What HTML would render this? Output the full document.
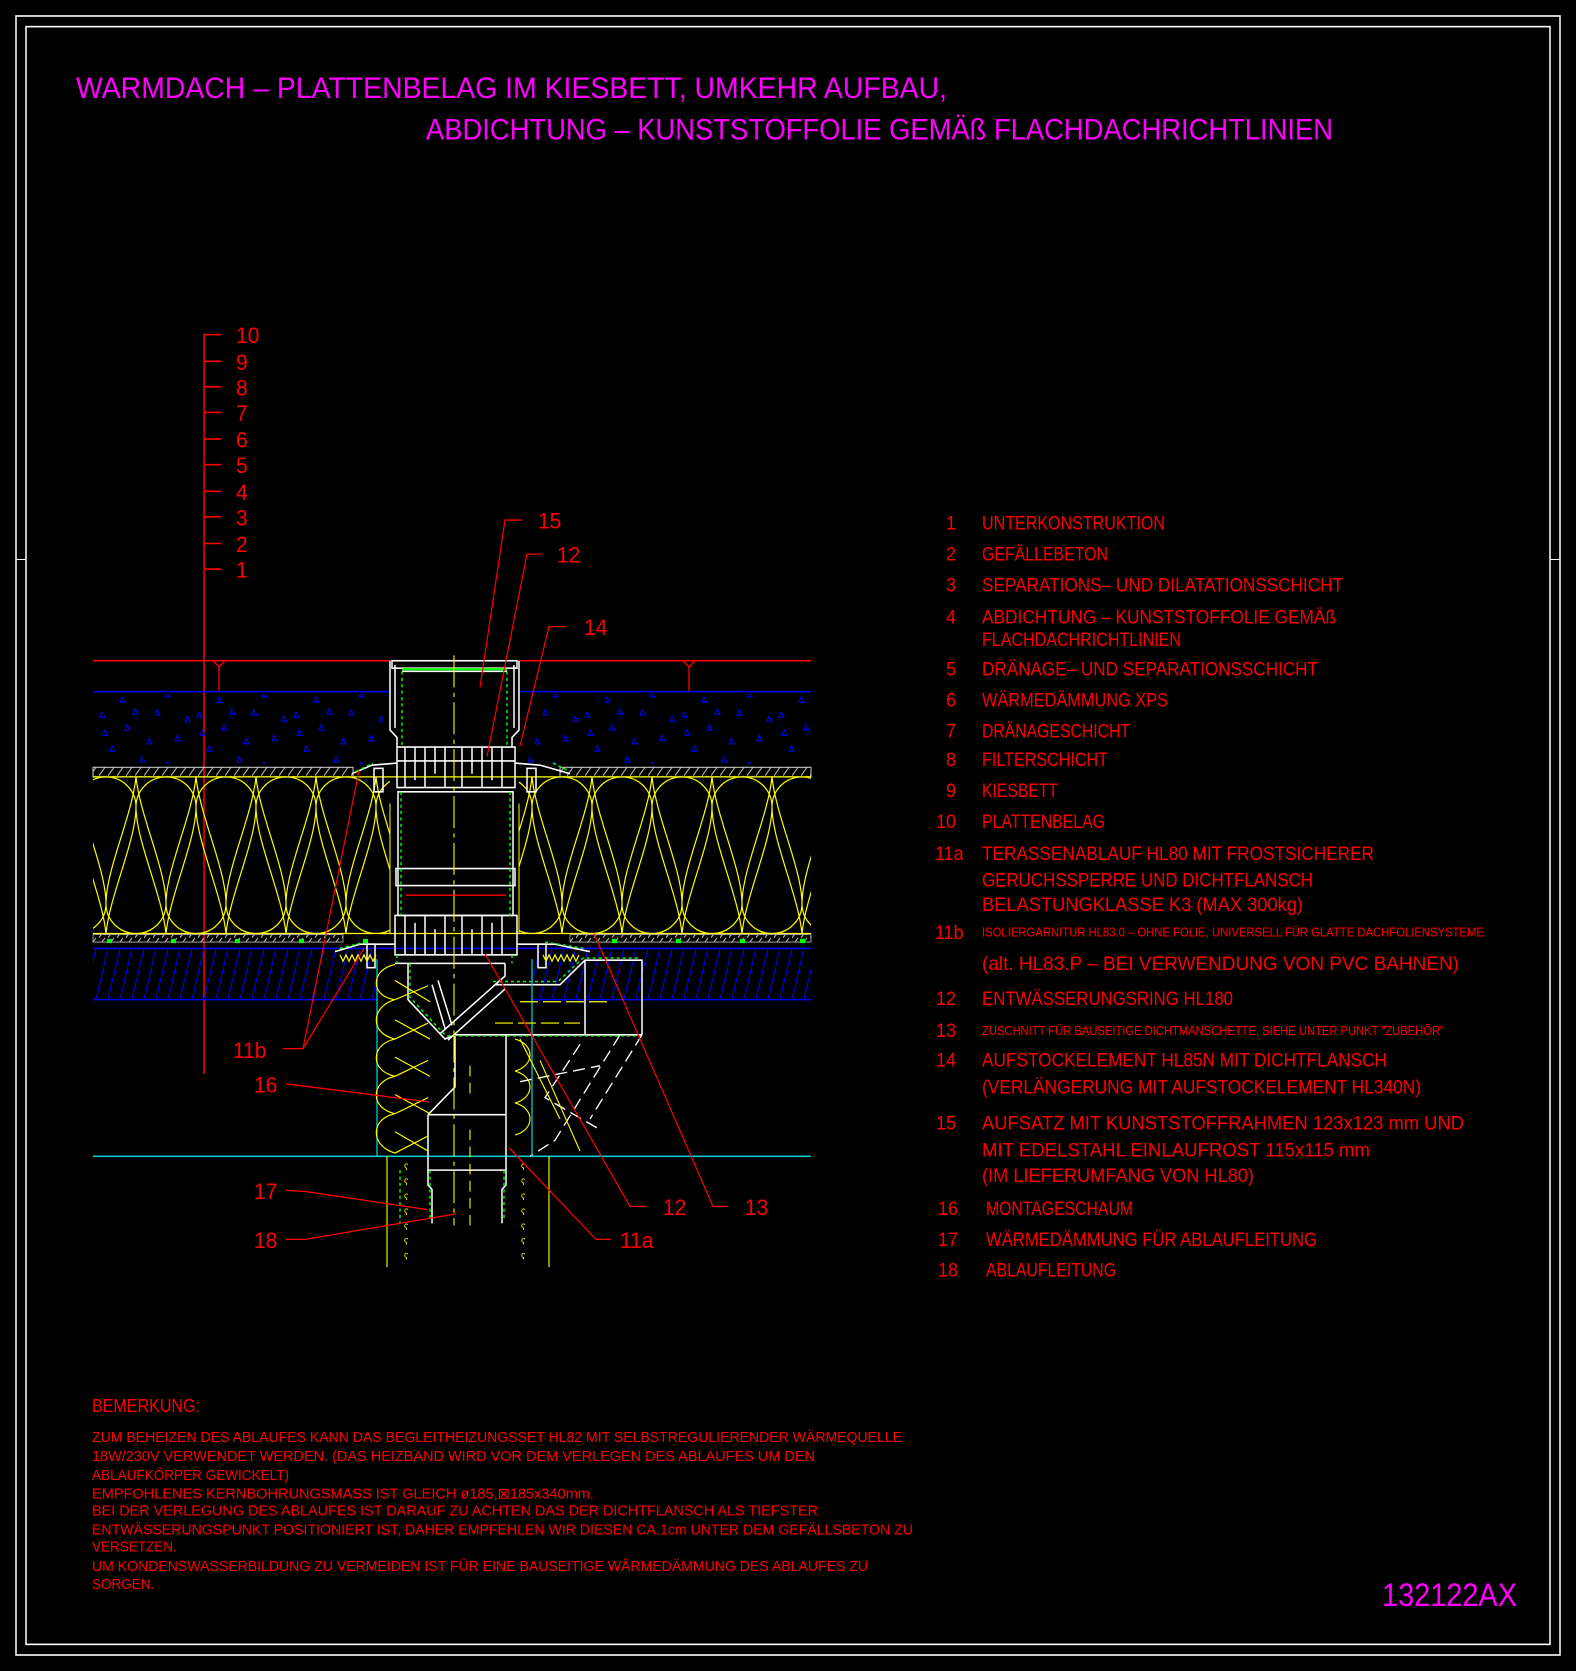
<!DOCTYPE html>
<html><head><meta charset="utf-8">
<style>
html,body{margin:0;padding:0;background:#000;}
svg{display:block;}
text{font-family:"Liberation Sans",sans-serif;}
</style></head>
<body>
<svg width="1576" height="1671" viewBox="0 0 1576 1568" preserveAspectRatio="none" xmlns="http://www.w3.org/2000/svg">
<defs>
<pattern id="ins1" patternUnits="userSpaceOnUse" x="76" y="729" width="60" height="147">
<path d="M0,28 A30 28 0 0 1 60,28 C60,60 34,110 30,147 C26,110 0,60 0,28 Z M30,119 A30 28 0 0 0 90,119 C90,87 64,37 60,0 C56,37 30,87 30,119 Z M-30,119 A30 28 0 0 0 30,119 C30,87 4,37 0,0 C-4,37 -30,87 -30,119 Z" fill="none" stroke="#ff0" stroke-width="1.2"/>
</pattern>
<pattern id="ins2" patternUnits="userSpaceOnUse" x="592" y="729" width="60" height="147">
<path d="M0,28 A30 28 0 0 1 60,28 C60,60 34,110 30,147 C26,110 0,60 0,28 Z M30,119 A30 28 0 0 0 90,119 C90,87 64,37 60,0 C56,37 30,87 30,119 Z M-30,119 A30 28 0 0 0 30,119 C30,87 4,37 0,0 C-4,37 -30,87 -30,119 Z" fill="none" stroke="#ff0" stroke-width="1.2"/>
</pattern>
<pattern id="grav" patternUnits="userSpaceOnUse" width="97" height="66">
<g fill="none" stroke="#00f" stroke-width="1">
<path d="M5,8 l3,5 h-5z M30,20 l3,5 h-5z M60,6 l3,5 h-5z M80,30 l3,5 h-5z M15,40 l3,5 h-5z M45,50 l3,5 h-5z M70,55 l3,5 h-5z M90,12 l3,5 h-5z M25,60 l3,5 h-5z M52,33 l3,5 h-5z M8,25 l3,5 h-5z M38,5 l3,5 h-5z"/>
</g></pattern>
<pattern id="hatchB" patternUnits="userSpaceOnUse" width="12" height="48" x="0" y="890">
<path d="M0,48 L12,0" stroke="#00f" stroke-width="1"/>
</pattern>
<pattern id="hatchG" patternUnits="userSpaceOnUse" width="9" height="8">
<path d="M0,8 L6,0" stroke="#bbb" stroke-width="1"/>
</pattern>
</defs>

<!-- frame -->
<rect x="16" y="15" width="1544" height="1538" fill="none" stroke="#fff" stroke-width="1.5"/>
<rect x="26" y="25" width="1524" height="1518" fill="none" stroke="#fff" stroke-width="1.5"/>
<line x1="16" y1="525" x2="26" y2="525" stroke="#fff"/>
<line x1="1550" y1="525" x2="1560" y2="525" stroke="#fff"/>

<!-- title -->
<g fill="#f0f" font-size="28">
<text x="76" y="92" textLength="871" lengthAdjust="spacingAndGlyphs">WARMDACH  –  PLATTENBELAG  IM  KIESBETT,  UMKEHR  AUFBAU,</text>
<text x="426" y="131" textLength="907" lengthAdjust="spacingAndGlyphs">ABDICHTUNG  –  KUNSTSTOFFOLIE  GEMÄß  FLACHDACHRICHTLINIEN</text>
<text x="1382" y="1507" font-size="30" textLength="135" lengthAdjust="spacingAndGlyphs">132122AX</text>
</g>

<!-- ruler -->
<g stroke="#f00" stroke-width="1.5">
<line x1="204" y1="313" x2="204" y2="1008"/>
<line x1="204" y1="314" x2="221" y2="314"/><line x1="204" y1="339" x2="221" y2="339"/>
<line x1="204" y1="363" x2="221" y2="363"/><line x1="204" y1="387" x2="221" y2="387"/>
<line x1="204" y1="412" x2="221" y2="412"/><line x1="204" y1="436" x2="221" y2="436"/>
<line x1="204" y1="461" x2="221" y2="461"/><line x1="204" y1="485" x2="221" y2="485"/>
<line x1="204" y1="510" x2="221" y2="510"/><line x1="204" y1="534" x2="221" y2="534"/>
</g>
<g fill="#f00" font-size="21">
<text x="236" y="322">10</text><text x="236" y="347">9</text><text x="236" y="371">8</text>
<text x="236" y="395">7</text><text x="236" y="420">6</text><text x="236" y="444">5</text>
<text x="236" y="469">4</text><text x="236" y="493">3</text><text x="236" y="518">2</text>
<text x="236" y="542">1</text>
</g>

<!-- layers -->
<g>
<line x1="93" y1="620" x2="390" y2="620" stroke="#f00" stroke-width="1.5"/>
<line x1="519" y1="620" x2="811" y2="620" stroke="#f00" stroke-width="1.5"/>
<path d="M213,620 l6,6 l6,-6 M219,626 V649 M683,620 l6,6 l6,-6 M689,626 V649" stroke="#f00" fill="none" stroke-width="1.3"/>
<line x1="93" y1="649" x2="390" y2="649" stroke="#00f" stroke-width="1.5"/>
<line x1="519" y1="649" x2="811" y2="649" stroke="#00f" stroke-width="1.5"/>
<rect x="93" y="651" width="290" height="66" fill="url(#grav)"/>
<rect x="526" y="651" width="285" height="66" fill="url(#grav)"/>
<rect x="93" y="720" width="260" height="9" fill="url(#hatchG)" stroke="#ccc" stroke-width="1"/>
<rect x="560" y="720" width="251" height="9" fill="url(#hatchG)" stroke="#ccc" stroke-width="1"/>
<line x1="93" y1="729" x2="811" y2="729" stroke="#ff0" stroke-width="1.2"/>
<rect x="93" y="729" width="297" height="147" fill="url(#ins1)"/>
<rect x="519" y="729" width="292" height="147" fill="url(#ins2)"/>
<line x1="390" y1="754" x2="390" y2="876" stroke="#ff0"/><line x1="519" y1="754" x2="519" y2="876" stroke="#ff0"/>
<line x1="93" y1="876" x2="811" y2="876" stroke="#ff0" stroke-width="1.2"/>
<rect x="93" y="877" width="250" height="7" fill="url(#hatchG)" stroke="#bbb" stroke-width="0.8"/>
<rect x="570" y="877" width="241" height="7" fill="url(#hatchG)" stroke="#bbb" stroke-width="0.8"/>
<g fill="#0f0">
<rect x="107" y="881" width="5" height="4"/><rect x="171" y="881" width="5" height="4"/><rect x="235" y="881" width="5" height="4"/>
<rect x="299" y="881" width="5" height="4"/><rect x="363" y="881" width="5" height="4"/>
<rect x="612" y="881" width="5" height="4"/><rect x="676" y="881" width="5" height="4"/><rect x="740" y="881" width="5" height="4"/><rect x="800" y="881" width="5" height="4"/>
</g>
<line x1="93" y1="890" x2="811" y2="890" stroke="#00f" stroke-width="1.5"/>
<rect x="93" y="890" width="284" height="48" fill="url(#hatchB)"/>
<rect x="532" y="890" width="279" height="48" fill="url(#hatchB)"/>
<line x1="93" y1="938" x2="377" y2="938" stroke="#00f" stroke-width="1.5"/>
<line x1="532" y1="938" x2="811" y2="938" stroke="#00f" stroke-width="1.5"/>
<line x1="93" y1="1085" x2="811" y2="1085" stroke="#0cc" stroke-width="1.5"/>
</g>

<!-- drain -->
<g fill="none" stroke="#fff" stroke-width="1.5">
<path d="M390,620 V685 L397,692 V701 M519,620 V685 L512,692 V701"/>
<path d="M395,624 V683 M514,624 V683"/>
<rect x="392" y="620" width="125" height="7" />
<line x1="402" y1="630" x2="507" y2="630"/>
<rect x="397" y="701" width="118" height="38"/>
<path d="M405,701 V739 M415,701 V732 M425,701 V739 M435,701 V726 M445,701 V739 M462,701 V739 M472,701 V726 M482,701 V739 M492,701 V732 M502,701 V739"/>
<line x1="397" y1="714" x2="515" y2="714"/>
<path d="M352,726 L372,718 L397,716 M515,716 L540,718 L570,726"/>
<rect x="374" y="721" width="9" height="22"/><rect x="527" y="721" width="9" height="22"/>
<rect x="398" y="743" width="115" height="116"/>
<rect x="396" y="815" width="119" height="16"/>
<rect x="395" y="859" width="122" height="37"/>
<path d="M405,859 V896 M415,866 V896 M425,859 V896 M435,872 V896 M445,859 V896 M462,859 V896 M472,872 V896 M482,859 V896 M492,866 V896 M502,859 V896"/>
<path d="M335,893 L360,886 L395,886 M517,886 L555,886 L590,893"/>
<rect x="367" y="886" width="8" height="22"/><rect x="538" y="886" width="8" height="22"/>
<path d="M395,904 H505 M408,904 V938 L445,975 L455,971 H642 M505,904 V916 L495,924 H560 L585,901 H642 V971 M585,901 V971"/>
<path d="M440,970 L500,920 M448,976 L505,928 M432,924 L445,965 M438,920 L452,962"/>
<path d="M455,971 V1020 L428,1046 M506,971 V1046 M428,1046 H506 V1098 M428,1046 V1098 H506"/>
<path d="M428,1098 V1112 L432,1116 V1148 M506,1098 V1112 L502,1116 V1148"/>
<g stroke-dasharray="12 6" stroke-width="1.3">
<path d="M620,971 L555,1070 L530,1085 M642,971 L590,1050 M580,980 L545,1030 L600,1060 M520,1015 L600,1000"/>
</g>
</g>
<g stroke="#0f0" stroke-width="1.4" stroke-dasharray="3 3" fill="none">
<path d="M402,630 V700 M507,630 V700 M401,743 V859 M510,743 V859 M397,896 V904 M512,896 V904 M410,904 V936 L446,972 H640 M400,1098 V1148"/>
<path d="M356,724 L373,716 M553,716 L570,724 M340,890 L365,884 M545,884 L585,890 M493,921 H558 L583,899 H640 M430,1098 V1146 M504,1098 V1146"/>
</g>
<line x1="402" y1="628" x2="507" y2="628" stroke="#0f0" stroke-width="2"/>
<g stroke="#ff0" stroke-width="1.2" fill="none">
<path d="M340,896 l3,6 l3,-6 l3,6 l3,-6 l3,6 l3,-6 l3,6 l3,-6 l3,6 l3,-6 l3,6 l3,-6"/>
<path d="M543,896 l3,6 l3,-6 l3,6 l3,-6 l3,6 l3,-6 l3,6 l3,-6 l3,6 l3,-6 l3,6 l3,-6"/>
</g>
<g stroke="#0cc" stroke-width="1.3"><line x1="377" y1="900" x2="377" y2="1085"/><line x1="532" y1="900" x2="532" y2="1085"/></g>
<g stroke="#ff0" stroke-width="1.1" fill="none">
<path d="M395,905 C370,910 370,935 395,938 L428,925 M395,938 C370,945 370,970 395,975 L428,960 M395,975 C370,980 370,1005 395,1010 L428,995 M395,1010 C370,1015 370,1040 395,1045 L428,1030 M395,1045 C370,1050 370,1075 395,1082 L428,1066"/>
<path d="M395,920 L430,940 M395,957 L430,975 M395,992 L430,1010 M395,1027 L430,1045 M395,1062 L428,1080"/>
<path d="M515,975 C535,980 535,1000 515,1005 M515,1005 C535,1010 535,1030 515,1035 M515,1035 C535,1040 535,1060 515,1065 M520,975 L560,1050 M540,995 L580,1080"/>
<line x1="387" y1="1085" x2="387" y2="1189"/><line x1="549" y1="1085" x2="549" y2="1189"/>
<path d="M454,615 V1150" stroke-dasharray="30 5 4 5"/>
<path d="M470,1060 V1150 M470,1000 V1030" stroke-dasharray="10 6"/>
<path d="M495,960 H580 M520,940 H610" stroke-dasharray="18 5"/>
</g>
<g fill="#ff0" font-size="9">
<text x="404" y="1098">ʕ</text><text x="404" y="1112">ʕ</text><text x="404" y="1126">ʕ</text><text x="404" y="1140">ʕ</text><text x="404" y="1154">ʕ</text><text x="404" y="1168">ʕ</text><text x="404" y="1182">ʕ</text>
<text x="521" y="1098">ʕ</text><text x="521" y="1112">ʕ</text><text x="521" y="1126">ʕ</text><text x="521" y="1140">ʕ</text><text x="521" y="1154">ʕ</text><text x="521" y="1168">ʕ</text><text x="521" y="1182">ʕ</text>
</g>

<!-- leaders -->
<g stroke="#f00" stroke-width="1.2" fill="none">
<path d="M522,488 H505 L480,645"/>
<path d="M542,520 H527 L487,710"/>
<path d="M566,588 H549 L520,700"/>
<path d="M283,984 H303 L359,723 M303,984 L364,890"/>
<path d="M286,1017 L429,1034"/>
<path d="M286,1117 L305,1118 L427,1135"/>
<path d="M286,1163 L305,1163 L456,1139"/>
<path d="M645,1132 H630 L485,895"/>
<path d="M728,1132 H713 L594,876"/>
<path d="M611,1163 H596 L509,1077"/>
<line x1="406" y1="840" x2="506" y2="840"/>
</g>
<g fill="#f00" font-size="21">
<text x="538" y="496">15</text><text x="557" y="528">12</text><text x="584" y="596">14</text>
<text x="233" y="993">11b</text><text x="254" y="1025">16</text><text x="254" y="1125">17</text><text x="254" y="1171">18</text>
<text x="663" y="1140">12</text><text x="745" y="1140">13</text><text x="620" y="1171">11a</text>
</g>

<!-- legend -->
<g fill="#f00" font-size="18">
<text x="946" y="497">1</text><text x="982" y="497" textLength="183" lengthAdjust="spacingAndGlyphs">UNTERKONSTRUKTION</text>
<text x="946" y="526">2</text><text x="982" y="526" textLength="126" lengthAdjust="spacingAndGlyphs">GEFÄLLEBETON</text>
<text x="946" y="555">3</text><text x="982" y="555" textLength="361" lengthAdjust="spacingAndGlyphs">SEPARATIONS–  UND  DILATATIONSSCHICHT</text>
<text x="946" y="585">4</text><text x="982" y="585" textLength="354" lengthAdjust="spacingAndGlyphs">ABDICHTUNG  –  KUNSTSTOFFOLIE  GEMÄß</text>
<text x="982" y="606" textLength="199" lengthAdjust="spacingAndGlyphs">FLACHDACHRICHTLINIEN</text>
<text x="946" y="634">5</text><text x="982" y="634" textLength="336" lengthAdjust="spacingAndGlyphs">DRÄNAGE–  UND  SEPARATIONSSCHICHT</text>
<text x="946" y="663">6</text><text x="982" y="663" textLength="186" lengthAdjust="spacingAndGlyphs">WÄRMEDÄMMUNG  XPS</text>
<text x="946" y="692">7</text><text x="982" y="692" textLength="148" lengthAdjust="spacingAndGlyphs">DRÄNAGESCHICHT</text>
<text x="946" y="719">8</text><text x="982" y="719" textLength="126" lengthAdjust="spacingAndGlyphs">FILTERSCHICHT</text>
<text x="946" y="748">9</text><text x="982" y="748" textLength="76" lengthAdjust="spacingAndGlyphs">KIESBETT</text>
<text x="936" y="777">10</text><text x="982" y="777" textLength="123" lengthAdjust="spacingAndGlyphs">PLATTENBELAG</text>
<text x="935" y="807">11a</text><text x="982" y="807" textLength="392" lengthAdjust="spacingAndGlyphs">TERASSENABLAUF  HL80  MIT  FROSTSICHERER</text>
<text x="982" y="832" textLength="331" lengthAdjust="spacingAndGlyphs">GERUCHSSPERRE  UND  DICHTFLANSCH</text>
<text x="982" y="855" textLength="321" lengthAdjust="spacingAndGlyphs">BELASTUNGKLASSE  K3  (MAX  300kg)</text>
<text x="935" y="881">11b</text><text x="982" y="879" font-size="12" textLength="505" lengthAdjust="spacingAndGlyphs">ISOLIERGARNITUR  HL83.0  –  OHNE  FOLIE,  UNIVERSELL  FÜR  GLATTE  DACHFOLIENSYSTEME.</text>
<text x="982" y="910" textLength="477" lengthAdjust="spacingAndGlyphs">(alt.  HL83.P  –  BEI  VERWENDUNG  VON  PVC  BAHNEN)</text>
<text x="936" y="943">12</text><text x="982" y="943" textLength="251" lengthAdjust="spacingAndGlyphs">ENTWÄSSERUNGSRING  HL180</text>
<text x="936" y="973">13</text><text x="982" y="971" font-size="12" textLength="462" lengthAdjust="spacingAndGlyphs">ZUSCHNITT  FÜR  BAUSEITIGE  DICHTMANSCHETTE,  SIEHE  UNTER  PUNKT  "ZUBEHÖR"</text>
<text x="936" y="1001">14</text><text x="982" y="1001" textLength="405" lengthAdjust="spacingAndGlyphs">AUFSTOCKELEMENT  HL85N  MIT  DICHTFLANSCH</text>
<text x="982" y="1026" textLength="439" lengthAdjust="spacingAndGlyphs">(VERLÄNGERUNG  MIT  AUFSTOCKELEMENT  HL340N)</text>
<text x="936" y="1060">15</text><text x="982" y="1060" textLength="482" lengthAdjust="spacingAndGlyphs">AUFSATZ  MIT  KUNSTSTOFFRAHMEN  123x123  mm  UND</text>
<text x="982" y="1085" textLength="388" lengthAdjust="spacingAndGlyphs">MIT  EDELSTAHL  EINLAUFROST  115x115  mm</text>
<text x="982" y="1109" textLength="272" lengthAdjust="spacingAndGlyphs">(IM  LIEFERUMFANG  VON  HL80)</text>
<text x="938" y="1140">16</text><text x="986" y="1140" textLength="147" lengthAdjust="spacingAndGlyphs">MONTAGESCHAUM</text>
<text x="938" y="1169">17</text><text x="986" y="1169" textLength="331" lengthAdjust="spacingAndGlyphs">WÄRMEDÄMMUNG  FÜR  ABLAUFLEITUNG</text>
<text x="938" y="1198">18</text><text x="986" y="1198" textLength="130" lengthAdjust="spacingAndGlyphs">ABLAUFLEITUNG</text>
</g>

<!-- remarks -->
<g fill="#f00" font-size="13.5">
<text x="92" y="1325" font-size="17" textLength="108" lengthAdjust="spacingAndGlyphs">BEMERKUNG:</text>
<text x="92" y="1353" textLength="810" lengthAdjust="spacingAndGlyphs">ZUM  BEHEIZEN  DES  ABLAUFES  KANN  DAS  BEGLEITHEIZUNGSSET  HL82  MIT  SELBSTREGULIERENDER  WÄRMEQUELLE</text>
<text x="92" y="1371" textLength="723" lengthAdjust="spacingAndGlyphs">18W/230V  VERWENDET  WERDEN.  (DAS  HEIZBAND  WIRD  VOR  DEM  VERLEGEN  DES  ABLAUFES  UM  DEN</text>
<text x="92" y="1389" textLength="197" lengthAdjust="spacingAndGlyphs">ABLAUFKÖRPER  GEWICKELT)</text>
<text x="92" y="1406" textLength="502" lengthAdjust="spacingAndGlyphs">EMPFOHLENES  KERNBOHRUNGSMASS  IST  GLEICH  ø185,⊠185x340mm.</text>
<text x="92" y="1422" textLength="726" lengthAdjust="spacingAndGlyphs">BEI  DER  VERLEGUNG  DES  ABLAUFES  IST  DARAUF  ZU  ACHTEN  DAS  DER  DICHTFLANSCH  ALS  TIEFSTER</text>
<text x="92" y="1440" textLength="821" lengthAdjust="spacingAndGlyphs">ENTWÄSSERUNGSPUNKT  POSITIONIERT  IST,  DAHER  EMPFEHLEN  WIR  DIESEN  CA.1cm  UNTER  DEM  GEFÄLLSBETON  ZU</text>
<text x="92" y="1456">VERSETZEN.</text>
<text x="92" y="1474" textLength="776" lengthAdjust="spacingAndGlyphs">UM  KONDENSWASSERBILDUNG  ZU  VERMEIDEN  IST  FÜR  EINE  BAUSEITIGE  WÄRMEDÄMMUNG  DES  ABLAUFES  ZU</text>
<text x="92" y="1491">SORGEN.</text>
</g>
</svg>
</body></html>
